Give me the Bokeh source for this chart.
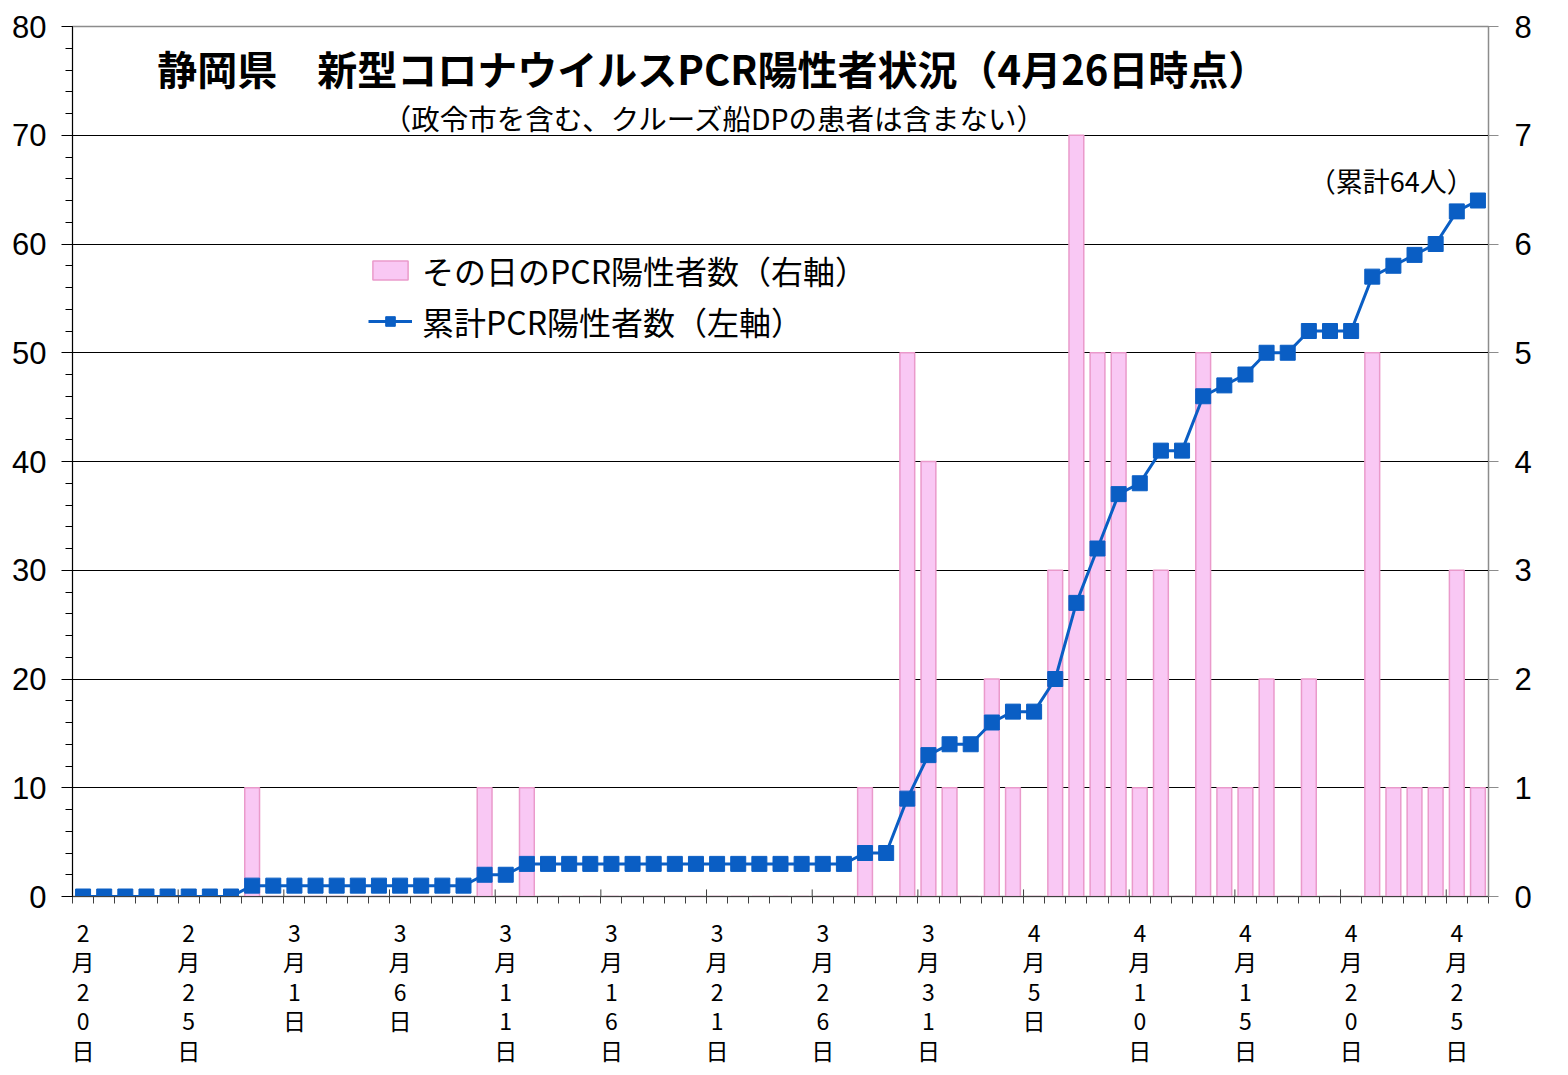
from bokeh.plotting import figure
from bokeh.models import (Range1d, LinearAxis, FixedTicker, SingleIntervalTicker,
                          Label, Legend, LegendItem)
from bokeh.embed import file_html
from bokeh.resources import INLINE

JP = "Noto Sans CJK JP"

# 2月20日〜4月26日 (67日分)
# その日のPCR陽性者数 (右軸)
daily = [0, 0, 0, 0, 0, 0, 0, 0, 1, 0,
         0, 0, 0, 0, 0, 0, 0, 0, 0, 1,
         0, 1, 0, 0, 0, 0, 0, 0, 0, 0,
         0, 0, 0, 0, 0, 0, 0, 1, 0, 5,
         4, 1, 0, 2, 1, 0, 3, 7, 5, 5,
         1, 3, 0, 5, 1, 1, 2, 0, 2, 0,
         0, 5, 1, 1, 1, 3, 1]

# 累計PCR陽性者数 (左軸)
total = [0, 0, 0, 0, 0, 0, 0, 0, 1, 1,
         1, 1, 1, 1, 1, 1, 1, 1, 1, 2,
         2, 3, 3, 3, 3, 3, 3, 3, 3, 3,
         3, 3, 3, 3, 3, 3, 3, 4, 4, 9,
         13, 14, 14, 16, 17, 17, 20, 27, 32, 37,
         38, 41, 41, 46, 47, 48, 50, 50, 52, 52,
         52, 57, 58, 59, 60, 63, 64]

# 目盛りラベル (5日おき)
tick_days = [0, 5, 10, 15, 20, 25, 30, 35, 40, 45, 50, 55, 60, 65]
tick_labels = ["2月20日", "2月25日", "3月1日", "3月6日", "3月11日", "3月16日",
               "3月21日", "3月26日", "3月31日", "4月5日", "4月10日", "4月15日",
               "4月20日", "4月25日"]

n = len(daily)
x = [i + 0.5 for i in range(n)]

p = figure(width=1556, height=1072, x_range=Range1d(0, n), y_range=Range1d(0, 80),
           output_backend="svg", toolbar_location=None,
           min_border_left=72, min_border_right=68, min_border_top=26,
           min_border_bottom=176)
p.extra_y_ranges = {"right": Range1d(0, 8)}
p.outline_line_color = "#8c8c8c"
p.outline_line_width = 1.5
p.background_fill_color = "white"

# grid
p.xgrid.visible = False
p.ygrid.ticker = SingleIntervalTicker(interval=10)
p.ygrid.grid_line_color = "black"
p.ygrid.grid_line_width = 1

# left axis
ya = p.yaxis[0]
ya.ticker = SingleIntervalTicker(interval=10, num_minor_ticks=5)
ya.axis_line_color = "black"
ya.major_tick_line_color = "black"
ya.minor_tick_line_color = "black"
ya.major_tick_out = 11
ya.major_tick_in = 0
ya.minor_tick_out = 7
ya.minor_tick_in = 0
ya.major_label_text_font = "Liberation Sans"
ya.major_label_text_font_size = "31px"
ya.major_label_text_color = "black"
ya.major_label_standoff = 15

# right axis
ry = LinearAxis(y_range_name="right", ticker=SingleIntervalTicker(interval=1, num_minor_ticks=0))
ry.axis_line_color = "#8c8c8c"
ry.major_tick_line_color = "#8c8c8c"
ry.major_tick_out = 10
ry.major_tick_in = 0
ry.minor_tick_line_color = None
ry.major_label_text_font = "Liberation Sans"
ry.major_label_text_font_size = "31px"
ry.major_label_text_color = "black"
ry.major_label_standoff = 16
p.add_layout(ry, "right")

# bottom axis: vertical date labels centred on each day, small ticks between days
xa = p.xaxis[0]
xa.ticker = FixedTicker(ticks=[d + 0.5 for d in tick_days], minor_ticks=list(range(n + 1)))
xa.axis_line_color = "#404040"
xa.major_tick_line_color = None
xa.major_tick_in = 0
xa.major_tick_out = 0
xa.minor_tick_line_color = "#404040"
xa.minor_tick_in = 0
xa.minor_tick_out = 7
xa.major_label_overrides = {d + 0.5: "\n".join(t) for d, t in zip(tick_days, tick_labels)}
xa.major_label_text_font = JP
xa.major_label_text_font_size = "23px"
xa.major_label_text_line_height = 0.87
xa.major_label_text_color = "black"
xa.major_label_standoff = 11

bars = p.vbar(x=x, top=daily, width=0.7, y_range_name="right",
              fill_color="#f9c8f4", line_color="#ea9acb", line_width=1.5)
line = p.line(x, total, line_color="#0a5ec4", line_width=3)
pts = p.scatter(x, total, marker="square", size=15, fill_color="#0a5ec4", line_color="#0a5ec4")

# longer ticks every 5 days (inner part)
p.segment(x0=tick_days, y0=0, x1=tick_days, y1=0.65, line_color="#404040", line_width=1)

legend = Legend(items=[LegendItem(label="その日のPCR陽性者数（右軸）", renderers=[bars]),
                       LegendItem(label="累計PCR陽性者数（左軸）", renderers=[line, pts])],
                location=(296, 552), orientation="vertical")
legend.border_line_color = None
legend.background_fill_alpha = 0
legend.padding = 0
legend.margin = 0
legend.spacing = 5
legend.glyph_width = 44
legend.glyph_height = 24
legend.label_standoff = 10
legend.label_text_font = JP
legend.label_text_font_size = "32px"
legend.label_text_color = "black"
legend.label_height = 30
p.add_layout(legend, "center")

title = Label(x=30.3, y=76.2, text="静岡県　新型コロナウイルスPCR陽性者状況（4月26日時点）",
              text_align="center", text_baseline="middle", text_font=JP,
              text_font_size="40px", text_font_style="bold", text_color="black")
sub = Label(x=30.4, y=71.6, text="（政令市を含む、クルーズ船DPの患者は含まない）",
            text_align="center", text_baseline="middle", text_font=JP,
            text_font_size="28.5px", text_color="black")
note = Label(x=62.4, y=65.8, text="（累計64人）",
             text_align="center", text_baseline="middle", text_font=JP,
             text_font_size="27px", text_color="black")
p.add_layout(title)
p.add_layout(sub)
p.add_layout(note)

open("out.html", "w").write(file_html(p, INLINE))
